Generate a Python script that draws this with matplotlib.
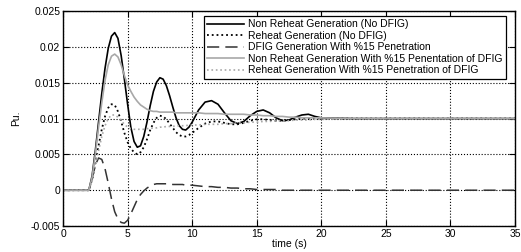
import matplotlib.pyplot as plt

plt.rcParams['font.family'] = ['Liberation Sans', 'DejaVu Sans']

# time axis (s) shared by all series
t = [0, 2, 2.25, 2.5, 2.75, 3, 3.25, 3.5, 3.75, 4, 4.25, 4.5, 4.75, 5, 5.25, 5.5, 5.75,
     6, 6.25, 6.5, 6.75, 7, 7.25, 7.5, 7.75, 8, 8.25, 8.5, 8.75, 9, 9.25, 9.5, 9.75, 10,
     10.5, 11, 11.5, 12, 12.5, 13, 13.5, 14, 14.5, 15, 15.5, 16, 16.5, 17, 17.5, 18,
     18.5, 19, 19.5, 20, 22.5, 25, 27.5, 30, 32.5, 35]

# Non reheat generation (no DFIG)
nonreheat = [0, 0, 0.002, 0.0055, 0.0095, 0.0135, 0.017, 0.0198, 0.0215, 0.022, 0.0212,
             0.0188, 0.0155, 0.012, 0.0088, 0.0068, 0.006, 0.0062, 0.0075, 0.0095, 0.0118,
             0.0138, 0.0151, 0.0157, 0.0155, 0.0146, 0.0132, 0.0116, 0.0101, 0.009, 0.0085,
             0.0084, 0.0088, 0.0095, 0.0112, 0.0123, 0.0125, 0.012, 0.0108, 0.0097, 0.0093,
             0.0096, 0.0104, 0.011, 0.0112, 0.0108, 0.0101, 0.0097, 0.0098, 0.0102, 0.0105,
             0.0106, 0.0103, 0.0101, 0.01, 0.01, 0.01, 0.01, 0.01, 0.01]

# Reheat generation (no DFIG)
reheat = [0, 0, 0.0015, 0.0038, 0.0062, 0.0085, 0.0103, 0.0115, 0.012, 0.0119, 0.011,
          0.0096, 0.008, 0.0067, 0.0058, 0.0053, 0.005, 0.0053, 0.006, 0.0071, 0.0084,
          0.0094, 0.0101, 0.0104, 0.0103, 0.0099, 0.0093, 0.0087, 0.0081, 0.0077, 0.0075,
          0.0075, 0.0077, 0.008, 0.0087, 0.0093, 0.0096, 0.0096, 0.0094, 0.0092, 0.0092,
          0.0094, 0.0097, 0.0099, 0.0099, 0.0098, 0.0097, 0.0097, 0.0098, 0.0099, 0.01,
          0.01, 0.01, 0.01, 0.01, 0.01, 0.01, 0.01, 0.01, 0.01]

# DFIG generation with 15% penetration
dfig = [0, 0, 0.0015, 0.0035, 0.0045, 0.0043, 0.003, 0.001, -0.0012, -0.003, -0.004,
        -0.0045, -0.0046, -0.0042, -0.0033, -0.0023, -0.0013, -0.0006, -0.0001, 0.0003,
        0.0006, 0.0008, 0.0009, 0.0009, 0.0009, 0.0009, 0.0009, 0.0008, 0.0008, 0.0008,
        0.0008, 0.0007, 0.0007, 0.0007, 0.0006, 0.0005, 0.0005, 0.0004, 0.0004, 0.0003,
        0.0003, 0.0002, 0.0002, 0.0001, 0.0001, 0.0001, 0.0001, 0, 0, 0, 0, 0, 0, 0, 0,
        0, 0, 0, 0, 0]

# Non reheat generation with 15% DFIG
nonreheat_dfig = [0, 0, 0.0018, 0.005, 0.0088, 0.0122, 0.0153, 0.0175, 0.0187, 0.019,
                  0.0186, 0.0175, 0.016, 0.0147, 0.0138, 0.013, 0.0124, 0.0119, 0.0116,
                  0.0113, 0.0111, 0.011, 0.011, 0.0109, 0.0109, 0.0109, 0.0109, 0.0109,
                  0.0108, 0.0108, 0.0108, 0.0108, 0.0108, 0.0108, 0.0108, 0.0107, 0.0107,
                  0.0107, 0.0106, 0.0106, 0.0106, 0.0106, 0.0105, 0.0105, 0.0104, 0.0104,
                  0.0103, 0.0103, 0.0102, 0.0102, 0.0101, 0.0101, 0.0101, 0.0101, 0.01,
                  0.01, 0.01, 0.01, 0.01, 0.01]

# Reheat generation with 15% DFIG
reheat_dfig = [0, 0, 0.0013, 0.0033, 0.0055, 0.0075, 0.009, 0.01, 0.0105, 0.0105, 0.0102,
               0.0097, 0.0092, 0.0088, 0.0086, 0.0085, 0.0085, 0.0085, 0.0085, 0.0086,
               0.0086, 0.0087, 0.0087, 0.0088, 0.0088, 0.0089, 0.0089, 0.0089, 0.009,
               0.009, 0.009, 0.009, 0.0091, 0.0091, 0.0091, 0.0092, 0.0092, 0.0092, 0.0093,
               0.0093, 0.0094, 0.0094, 0.0095, 0.0095, 0.0096, 0.0096, 0.0097, 0.0097,
               0.0097, 0.0098, 0.0098, 0.0098, 0.0099, 0.0099, 0.01, 0.01, 0.01, 0.01,
               0.01, 0.01]

labels = ['Non Reheat Generation (No DFIG)',
          'Reheat Generation (No DFIG)',
          'DFIG Generation With %15 Penetration',
          'Non Reheat Generation With %15 Penentation of DFIG',
          'Reheat Generation With %15 Penetration of DFIG']

gray = '#a8a8a8'

fig = plt.figure(figsize=(5.21, 2.52), dpi=100)
ax = fig.add_axes([0.121, 0.103, 0.8675, 0.853])

ax.plot(t, nonreheat, color='black', lw=1.2, label=labels[0])
ax.plot(t, reheat, color='black', lw=1.3, ls=':', label=labels[1])
ax.plot(t, dfig, color='#333333', lw=1.1, ls=(0, (8, 4)), label=labels[2])
ax.plot(t, nonreheat_dfig, color=gray, lw=1.2, label=labels[3])
ax.plot(t, reheat_dfig, color=gray, lw=1.2, ls=':', label=labels[4])

ax.set_xlim(0, 35)
ax.set_ylim(-0.005, 0.025)
ax.set_xticks(range(0, 36, 5))
ax.set_yticks([-0.005, 0, 0.005, 0.01, 0.015, 0.02, 0.025])
ax.set_yticklabels(['-0.005', '0', '0.005', '0.01', '0.015', '0.02', '0.025'])
ax.grid(True, color='black', ls=':', lw=0.8)
ax.tick_params(direction='in', labelsize=7.5, length=4, top=True, right=True, pad=2)
for s in ax.spines.values():
    s.set_linewidth(1.0)

ax.set_xlabel('time (s)', fontsize=7.5, labelpad=0)
ax.set_ylabel('Pu.', fontsize=7.5, labelpad=7)

leg = ax.legend(loc='upper right', bbox_to_anchor=(0.98, 0.977), fontsize=7.5,
                frameon=True, fancybox=False, framealpha=1, edgecolor='black',
                handlelength=3.6, borderpad=0.3, labelspacing=0.15, handletextpad=0.4,
                borderaxespad=0)
leg.get_frame().set_linewidth(0.9)

fig.savefig('out.png', dpi=100)
